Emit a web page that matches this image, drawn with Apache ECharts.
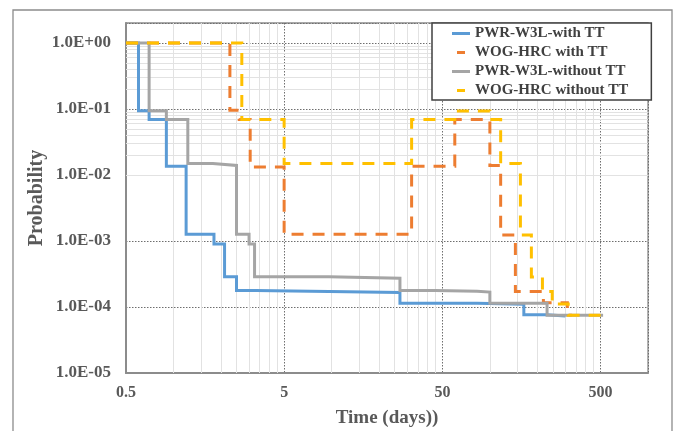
<!DOCTYPE html>
<html>
<head>
<meta charset="utf-8">
<script src="https://cdn.jsdelivr.net/npm/echarts@6/dist/echarts.min.js"></script>
<style>
  html, body { margin: 0; padding: 0; background: #ffffff; }
  #chart { width: 676px; height: 431px; }
</style>
</head>
<body>
<div id="chart"></div>
<script>
// Step curves: each probability holds from its time until the next time.
const seriesNames = ['PWR-W3L-with TT', 'WOG-HRC with TT', 'PWR-W3L-without TT', 'WOG-HRC without TT'];

const pwrWithTime = [0.5, 0.6, 0.7, 0.9, 1.2, 1.8, 2.1, 2.5, 3.3, 9.6, 27, 83, 164, 230, 300];
const pwrWithProb = [1.0, 0.094, 0.069, 0.0135, 0.00126, 0.0009, 0.000288, 0.000177, 0.000172, 0.000166, 0.000114, 0.00011, 0.000076, 0.000073, 0.000073];

const wogWithTime = [0.5, 2.27, 2.6, 3.05, 5.0, 32, 60, 100, 117, 145, 218, 309, 330];
const wogWithProb = [1.0, 0.095, 0.069, 0.0132, 0.00126, 0.0135, 0.069, 0.0139, 0.00123, 0.000171, 0.000116, 0.000075, 0.000075];

const pwrWithoutTime = [0.5, 0.7, 0.9, 1.23, 1.77, 2.5, 3.0, 3.25, 9.6, 27, 45, 83, 100, 230, 520];
const pwrWithoutProb = [1.0, 0.094, 0.069, 0.0149, 0.0139, 0.00126, 0.0009, 0.000288, 0.000272, 0.000177, 0.000173, 0.000168, 0.000114, 0.000075, 0.000075];

const wogWithoutTime = [0.5, 2.7, 5.0, 32, 60, 100, 117, 156, 183, 215, 248, 313, 520];
const wogWithoutProb = [1.0, 0.069, 0.0149, 0.069, 0.093, 0.069, 0.0149, 0.00123, 0.000285, 0.000171, 0.000111, 0.000075, 0.000075];

const seriesColors = ['#5B9BD5', '#ED7D31', '#A5A5A5', '#FFC000'];

// Axis ranges
const xMin = 0.5, xMax = 1000;
const yMin = 1e-5, yMax = 2;

const serifFont = "'Liberation Serif', 'Times New Roman', serif";

function pairs(ts, ps) { return ts.map((t, i) => [t, ps[i]]); }

// Light minor grid: 2..9 multiples inside every decade
const xMinorLines = [];
for (let base = xMin; base < xMax; base *= 10) {
  for (let m = 2; m <= 9; m++) {
    const v = base * m;
    if (v < xMax) xMinorLines.push({ xAxis: v });
  }
}
const yMinorLines = [];
for (let base = yMin; base < 1; base *= 10) {
  for (let m = 2; m <= 9; m++) yMinorLines.push({ yAxis: base * m });
}

const chart = echarts.init(document.getElementById('chart'), null, { renderer: 'canvas' });

function stepSeries(name, data, color, dashed) {
  return {
    name: name,
    type: 'line',
    step: 'end',
    symbol: 'none',
    data: data,
    lineStyle: { color: color, width: 3, type: dashed ? [12, 9] : 'solid', cap: 'butt', join: 'miter' },
    itemStyle: { color: color },
    emphasis: { disabled: true },
    animation: false
  };
}

const legendIcon = {
  solid: 'path://M0,0H18V3H0Z',
  dash: 'path://M0,0H8V3H0Z'
};

chart.setOption({
  backgroundColor: '#ffffff',
  animation: false,
  graphic: [{
    type: 'rect',
    shape: { x: 13, y: 10, width: 659, height: 440 },
    style: { fill: 'none', stroke: '#8c8c8c', lineWidth: 1.3 },
    silent: true, z: 0
  }],
  grid: {
    left: 126, right: 28, top: 23, bottom: 58,
    outerBoundsMode: 'none',
    containLabel: false,
    show: true, borderColor: '#8c8c8c', borderWidth: 1.3, backgroundColor: 'transparent'
  },
  legend: {
    orient: 'vertical',
    left: 432, top: 23,
    itemWidth: 18, itemHeight: 3, itemGap: 0,
    padding: [1, 23, 0, 20],
    borderColor: '#404040', borderWidth: 1.5,
    backgroundColor: '#ffffff',
    selectedMode: false,
    textStyle: { fontFamily: serifFont, fontWeight: 'bold', fontSize: 15, color: '#404040', lineHeight: 19 },
    data: [
      { name: seriesNames[0], icon: legendIcon.solid, itemStyle: { color: seriesColors[0], borderWidth: 0 } },
      { name: seriesNames[1], icon: legendIcon.dash, itemStyle: { color: seriesColors[1], borderWidth: 0 } },
      { name: seriesNames[2], icon: legendIcon.solid, itemStyle: { color: seriesColors[2], borderWidth: 0 } },
      { name: seriesNames[3], icon: legendIcon.dash, itemStyle: { color: seriesColors[3], borderWidth: 0 } }
    ]
  },
  xAxis: {
    type: 'log', logBase: 10, min: xMin, max: xMax, interval: 1,
    axisLine: { show: true, onZero: false, lineStyle: { color: '#8c8c8c', width: 2 } },
    axisTick: { show: false },
    axisLabel: {
      margin: 12, color: '#595959', fontFamily: serifFont, fontWeight: 'bold', fontSize: 16,
      formatter: function (v) { return v > 999 ? '' : String(Number(v.toPrecision(1))); }
    },
    splitLine: { show: true, lineStyle: { color: '#6e6e6e', type: [1.5, 1.5], width: 1 } },
    name: 'Time (days))', nameLocation: 'middle', nameGap: 36,
    nameTextStyle: { color: '#595959', fontFamily: serifFont, fontWeight: 'bold', fontSize: 19 }
  },
  yAxis: {
    type: 'log', logBase: 10, min: yMin, max: yMax, interval: 1,
    axisLine: { show: true, lineStyle: { color: '#8c8c8c', width: 2 } },
    axisTick: { show: false },
    axisLabel: {
      margin: 15, color: '#595959', fontFamily: serifFont, fontWeight: 'bold', fontSize: 17,
      formatter: function (v) {
        const lg = Math.log10(v);
        const e = Math.round(lg);
        if (Math.abs(lg - e) > 1e-6 || e > 0) return '';
        return '1.0E' + (e < 0 ? '-' : '+') + String(Math.abs(e)).padStart(2, '0');
      }
    },
    splitLine: { show: true, lineStyle: { color: '#6e6e6e', type: [1.5, 1.5], width: 1 } },
    name: 'Probability', nameLocation: 'middle', nameGap: 79, nameMoveOverlap: false,
    nameTextStyle: { color: '#595959', fontFamily: serifFont, fontWeight: 'bold', fontSize: 20 }
  },
  series: [
    {
      name: 'minor-grid',
      type: 'line',
      data: [],
      symbol: 'none',
      silent: true,
      markLine: {
        silent: true, symbol: 'none', z: 1, animation: false,
        label: { show: false },
        emphasis: { disabled: true },
        lineStyle: { color: '#e2e2e2', width: 1, type: 'solid' },
        data: xMinorLines.concat(yMinorLines)
      }
    },
    stepSeries(seriesNames[0], pairs(pwrWithTime, pwrWithProb), seriesColors[0], false),
    stepSeries(seriesNames[1], pairs(wogWithTime, wogWithProb), seriesColors[1], true),
    stepSeries(seriesNames[2], pairs(pwrWithoutTime, pwrWithoutProb), seriesColors[2], false),
    stepSeries(seriesNames[3], pairs(wogWithoutTime, wogWithoutProb), seriesColors[3], true)
  ]
});
</script>
</body>
</html>
